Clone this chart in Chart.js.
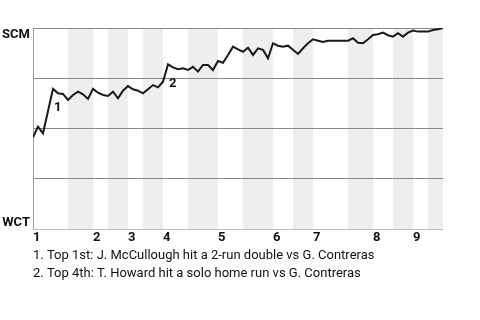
<!DOCTYPE html>
<html>
<head>
<meta charset="utf-8">
<script src="https://cdn.jsdelivr.net/npm/chart.js@4.4.0/dist/chart.umd.min.js"></script>
<style>
  html, body { margin: 0; padding: 0; background: #fff; }
  #wrap { width: 480px; height: 320px; position: relative; }
</style>
</head>
<body>
<div id="wrap"><canvas id="wpChart"></canvas></div>
<script>
// play number (x) and SCM win probability in % (y)
const plays = [0, 1, 2, 4, 5, 6, 7, 8, 9, 10, 11, 12, 13, 14, 15, 16, 17, 18, 19, 20,
    21, 22, 23, 24, 25, 26, 27, 28, 29, 30, 31, 32, 33, 34, 35, 36, 37, 38, 39, 40,
    41, 42, 43, 44, 45, 46, 47, 48, 49, 50, 51, 53, 54, 55, 56, 57, 58, 59, 61, 62,
    63, 64, 65, 66, 67, 68, 69, 70, 71, 72, 73, 74, 75, 76, 77, 78, 79, 80, 81, 82];
const winProb = [45.6, 50.9, 47.6, 69.7, 67.5, 67.2, 64.2, 66.7, 68.3, 67.0, 64.7, 69.7, 67.8, 66.7, 66.2, 68.3, 65.0, 68.8, 71.1, 69.5,
    68.8, 67.5, 69.5, 71.6, 70.5, 73.3, 81.9, 80.4, 79.5, 80.0, 79.1, 80.7, 78.3, 81.6, 81.6, 79.1, 83.6, 82.7, 86.6, 90.7,
    89.4, 88.2, 90.2, 86.6, 89.9, 89.1, 84.9, 92.4, 91.2, 90.7, 91.2, 87.1, 89.9, 92.4, 94.4, 93.7, 93.0, 93.7, 93.7, 93.7,
    93.7, 94.9, 92.7, 92.4, 94.4, 96.5, 96.9, 97.7, 96.4, 95.7, 97.4, 95.7, 97.7, 98.7, 98.2, 98.2, 98.2, 99.0, 99.4, 100];

// first play of each inning (top half) and bottom-half ranges
const innings = ['1', '2', '3', '4', '5', '6', '7', '8', '9'];
const inningStarts = [0, 12, 19, 26, 37, 48, 56, 68, 76];
const bottomHalves = [[7, 12], [15, 19], [22, 26], [31, 37], [42, 48], [52, 56], [63, 68], [72, 76], [79, 82]];

const teamTop = 'SCM';
const teamBottom = 'WCT';

// key plays marked on the line
const keyPlays = [4, 27];
const keyLabels = ['1', '2'];
const notes = [
    '1. Top 1st: J. McCullough hit a 2-run double vs G. Contreras',
    '2. Top 4th: T. Howard hit a solo home run vs G. Contreras'
];

const points = plays.map((p, i) => ({ x: p, y: winProb[i] }));

// shaded bottom halves of innings
const bandsPlugin = {
    id: 'bands',
    beforeDraw(chart) {
        const { ctx, chartArea, scales } = chart;
        ctx.save();
        ctx.fillStyle = '#eeeeee';
        bottomHalves.forEach(([a, b]) => {
            const x1 = scales.x.getPixelForValue(a);
            const x2 = scales.x.getPixelForValue(b);
            ctx.fillRect(x1, chartArea.top, x2 - x1, chartArea.bottom - chartArea.top);
        });
        ctx.restore();
    }
};

// numbered markers and notes underneath
const notesPlugin = {
    id: 'notes',
    afterDraw(chart) {
        const { ctx, chartArea, scales } = chart;
        ctx.save();
        ctx.fillStyle = '#111';
        ctx.font = 'bold 13px Roboto';
        ctx.textAlign = 'left';
        ctx.textBaseline = 'middle';
        keyPlays.forEach((p, i) => {
            const idx = plays.indexOf(p);
            const x = scales.x.getPixelForValue(p);
            const y = scales.y.getPixelForValue(winProb[idx]) + 19;
            ctx.fillText(keyLabels[i], x + 1, y);
        });

        ctx.font = '13px Roboto';
        notes.forEach((t, i) => {
            ctx.fillText(t, chartArea.left, chartArea.bottom + 27 + i * 18);
        });
        ctx.restore();
    }
};

new Chart(document.getElementById('wpChart'), {
    type: 'line',
    data: {
        datasets: [{
            data: points,
            borderColor: '#1a1a1a',
            borderWidth: 2,
            pointRadius: 0,
            tension: 0,
            fill: false
        }]
    },
    options: {
        responsive: true,
        maintainAspectRatio: false,
        animation: false,
        layout: {
            padding: { left: 0, right: 37, top: 28, bottom: 71 }
        },
        plugins: {
            legend: { display: false },
            tooltip: { enabled: false }
        },
        scales: {
            x: {
                type: 'linear',
                min: 0,
                max: 82,
                grid: { display: false, drawTicks: false },
                border: { display: false },
                afterBuildTicks: (scale) => {
                    scale.ticks = inningStarts.map(v => ({ value: v }));
                },
                afterFit: (scale) => { scale.height = 20; },
                ticks: {
                    autoSkip: false,
                    maxRotation: 0,
                    align: 'start',
                    padding: 1,
                    color: '#111',
                    font: { family: 'Roboto', size: 13, weight: 'bold' },
                    callback: (v) => innings[inningStarts.indexOf(v)]
                }
            },
            y: {
                min: 0,
                max: 100,
                afterFit: (scale) => { scale.width = 33; },
                grid: {
                    drawTicks: false,
                    color: (c) => c.tick.value === 0 ? '#bdbdbd' : '#8a8a8a'
                },
                border: { color: '#a0a0a0' },
                ticks: {
                    stepSize: 25,
                    padding: 3,
                    color: '#111',
                    font: { family: 'Roboto', size: 13, weight: 'bold', lineHeight: 1 },
                    callback: (v) => {
                        if (v === 100) return ['', teamTop];
                        if (v === 0) return [teamBottom, ''];
                        return '';
                    }
                }
            }
        }
    },
    plugins: [bandsPlugin, notesPlugin]
});
</script>
</body>
</html>
